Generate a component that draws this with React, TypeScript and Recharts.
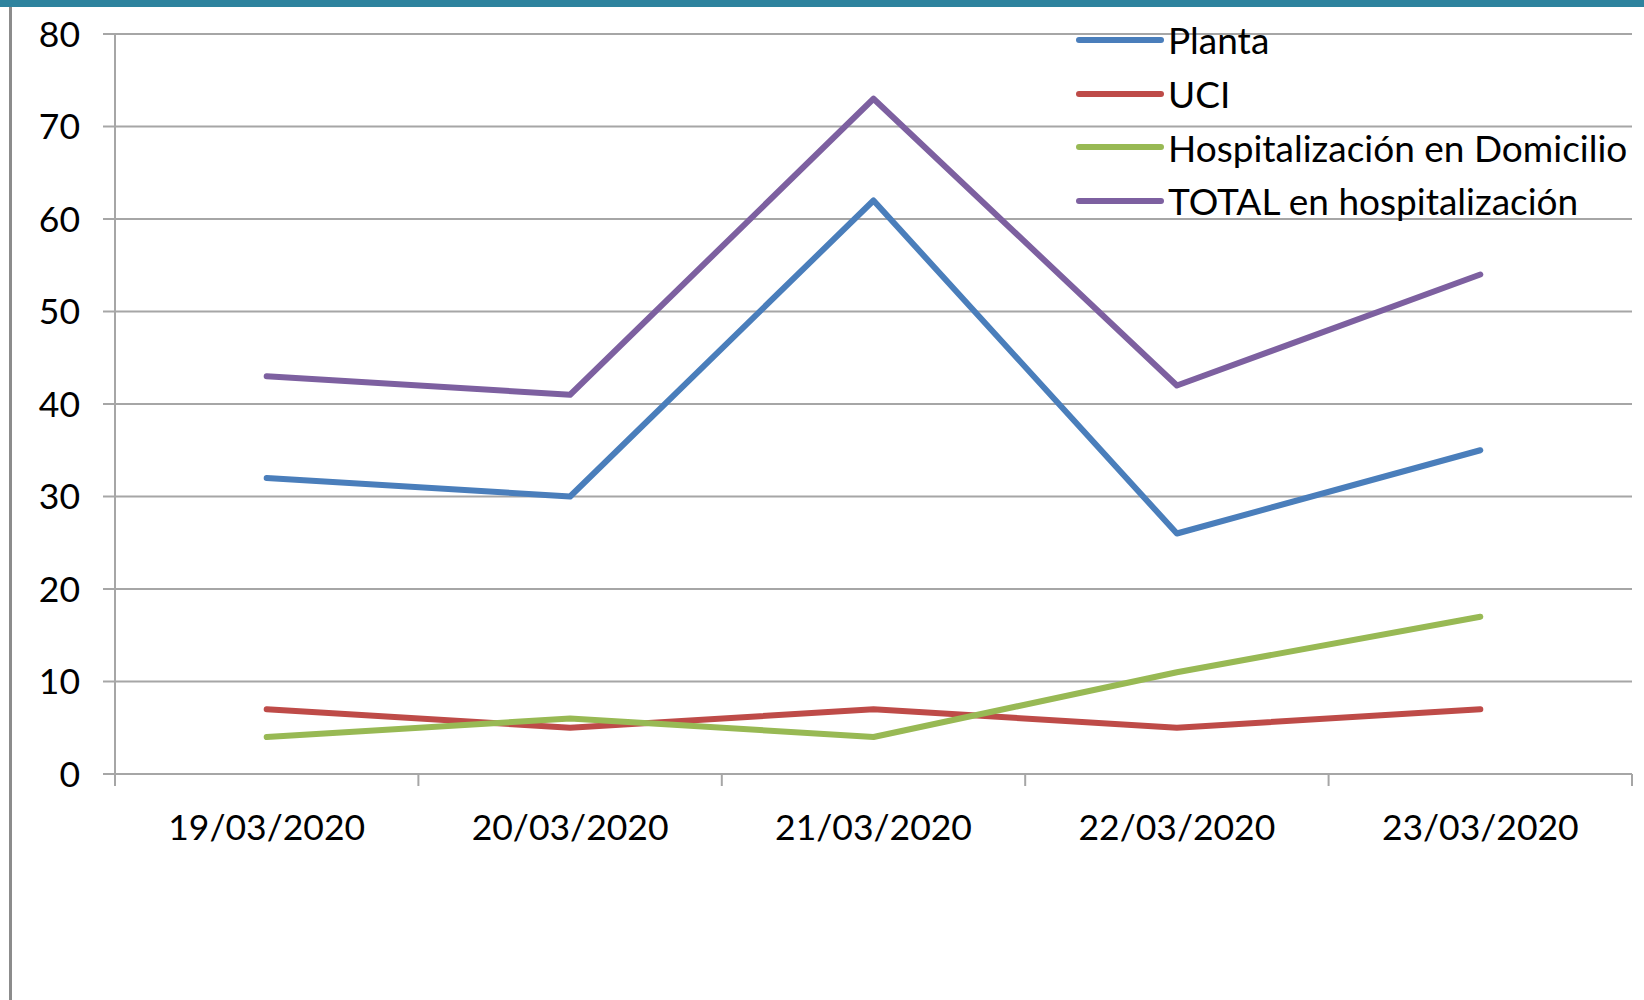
import { LineChart, Line, XAxis, YAxis, CartesianGrid, Legend } from "recharts";

const categories = ["19/03/2020", "20/03/2020", "21/03/2020", "22/03/2020", "23/03/2020"];
const planta = [32, 30, 62, 26, 35];
const uci = [7, 5, 7, 5, 7];
const domicilio = [4, 6, 4, 11, 17];
const total = [43, 41, 73, 42, 54];
const yTicks = [0, 10, 20, 30, 40, 50, 60, 70, 80];

const series = [
  { key: "planta", label: "Planta", color: "#4a7ebb" },
  { key: "uci", label: "UCI", color: "#be4b48" },
  { key: "domicilio", label: "Hospitalización en Domicilio", color: "#98b954" },
  { key: "total", label: "TOTAL en hospitalización", color: "#7d60a0" },
];

const data = categories.map((name, i) => ({
  name,
  planta: planta[i],
  uci: uci[i],
  domicilio: domicilio[i],
  total: total[i],
}));

const FONT = "Lato, 'Open Sans', sans-serif";
const GRID = "#a6a6a6";
const W = 1644;
const H = 1000;
const PLOT_LEFT = 115;
const PLOT_RIGHT = 1632;
const BAND = (PLOT_RIGHT - PLOT_LEFT) / categories.length;

// tick marks sit on the category boundaries, labels in the middle
const XTick = (props: any) => {
  const { x, y, payload, index } = props;
  const left = x - BAND / 2;
  const right = x + BAND / 2;
  return (
    <g>
      <line x1={left} y1={y} x2={left} y2={y + 12} stroke={GRID} strokeWidth={2} />
      {index === categories.length - 1 && (
        <line x1={right} y1={y} x2={right} y2={y + 12} stroke={GRID} strokeWidth={2} />
      )}
      <text x={x} y={y + 52} textAnchor="middle" dominantBaseline="central" fill="#000" fontSize={35.5} fontFamily={FONT}>
        {payload.value}
      </text>
    </g>
  );
};

const LegendBox = () => (
  <div style={{ fontFamily: FONT, fontSize: 37, color: "#000" }}>
    {series.map((s) => (
      <div key={s.key} style={{ display: "flex", alignItems: "center", height: 53.7 }}>
        <svg width={93} height={10}>
          <line x1={4} y1={5} x2={86} y2={5} stroke={s.color} strokeWidth={6} strokeLinecap="round" />
        </svg>
        <span style={{ whiteSpace: "nowrap", lineHeight: 1 }}>{s.label}</span>
      </div>
    ))}
  </div>
);

export default function App() {
  return (
    <div style={{ position: "absolute", left: 0, top: 0, width: W, height: H, background: "#fff", overflow: "hidden" }}>
      <div style={{ position: "absolute", left: 0, top: 0, width: W, height: 7, background: "#2e839e" }} />
      <div style={{ position: "absolute", left: 9, top: 7, width: 3, height: H - 7, background: "#8c8c8c" }} />
      <LineChart width={W} height={H} data={data} margin={{ top: 34, right: W - PLOT_RIGHT, bottom: 166, left: 0 }}>
        <CartesianGrid horizontal vertical={false} stroke={GRID} strokeWidth={2} />
        <XAxis
          dataKey="name"
          scale="band"
          height={60}
          axisLine={{ stroke: GRID, strokeWidth: 2 }}
          tickLine={false}
          tickSize={0}
          tickMargin={0}
          interval={0}
          tick={<XTick />}
        />
        <YAxis
          width={PLOT_LEFT}
          domain={[0, 80]}
          ticks={yTicks}
          interval={0}
          axisLine={{ stroke: GRID, strokeWidth: 2 }}
          tickLine={{ stroke: GRID, strokeWidth: 2 }}
          tickSize={12}
          tickMargin={23}
          tick={{ fill: "#000", fontSize: 35.5, fontFamily: FONT }}
        />
        <Legend
          layout="vertical"
          align="center"
          verticalAlign="middle"
          wrapperStyle={{ position: "absolute", left: 1075, top: 13, width: 570 }}
          content={<LegendBox />}
        />
        {series.map((s) => (
          <Line
            key={s.key}
            type="linear"
            dataKey={s.key}
            name={s.label}
            stroke={s.color}
            strokeWidth={6}
            strokeLinecap="round"
            strokeLinejoin="round"
            dot={false}
            activeDot={false}
            isAnimationActive={false}
          />
        ))}
      </LineChart>
    </div>
  );
}
